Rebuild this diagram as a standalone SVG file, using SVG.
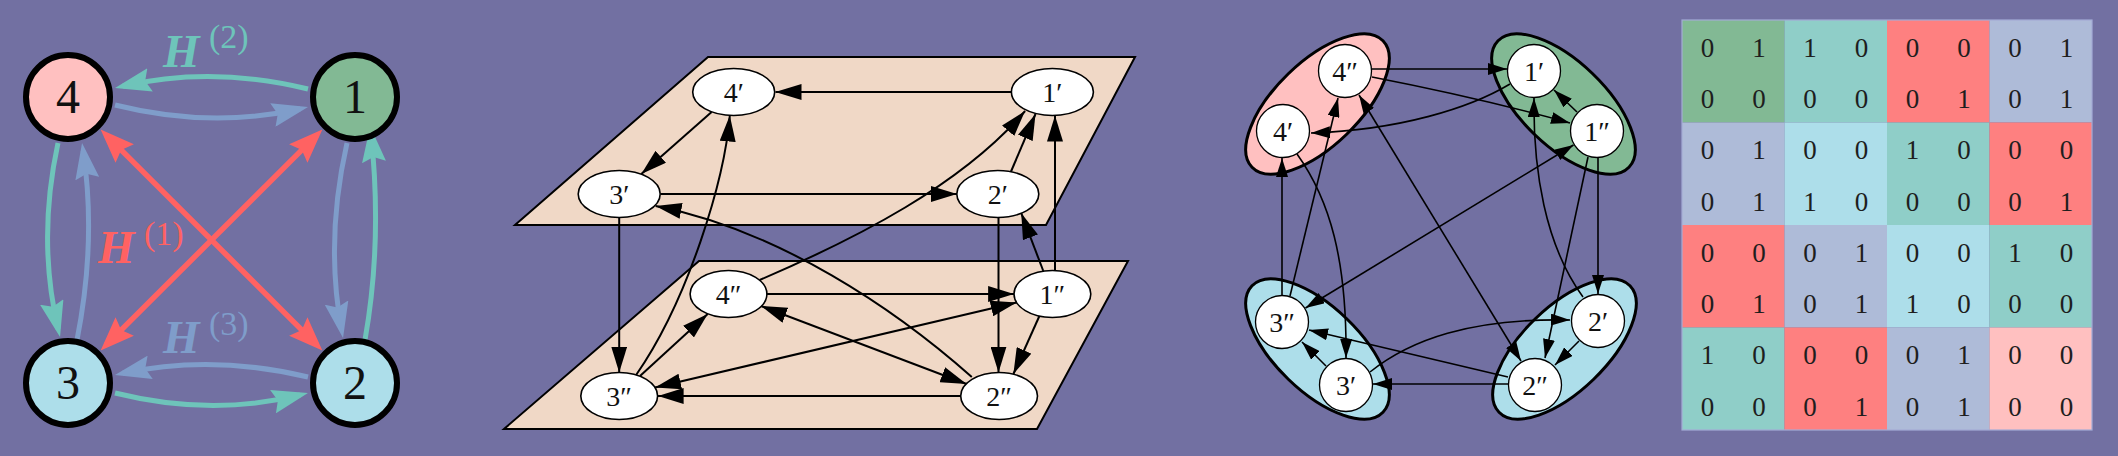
<svg xmlns="http://www.w3.org/2000/svg" width="2118" height="456" viewBox="0 0 2118 456">
<defs>
<style>
.lbl{font-family:"Liberation Serif","DejaVu Serif",serif;fill:#111;text-anchor:middle}
.big{font-size:48px}
.mid{font-size:28px}
.p3{font-size:28px}
.mat{font-family:"Liberation Serif","DejaVu Serif",serif;font-size:27px;fill:#1e1e1e;text-anchor:middle}
.H{font-family:"Liberation Serif","DejaVu Serif",serif;font-size:47px;font-weight:bold;font-style:italic}
.sup{font-size:34px;font-weight:normal;font-style:normal}
.n1{stroke:#000;stroke-width:6}
.e1{fill:none;stroke-width:5}
.t{stroke:#6EC4BA}
.b{stroke:#7F9DCA}
.r{stroke:#FF6262;stroke-width:5.5}
.plane{fill:#F0D8C6;stroke:#000;stroke-width:2}
.n2{fill:#fff;stroke:#000;stroke-width:1.6}
.e2{fill:none;stroke:#000;stroke-width:2}
.cl{stroke:#000;stroke-width:3}
.n3{fill:#fff;stroke:#000;stroke-width:1.3}
.e3{fill:none;stroke:#000;stroke-width:1.6}
</style>
<marker id="aT" viewBox="0 0 36 24" markerWidth="36" markerHeight="24" refX="28" refY="12" orient="auto" markerUnits="userSpaceOnUse"><path d="M0,0 L36,12 L0,24 L5,12 Z" fill="#6EC4BA"/></marker>
<marker id="aB" viewBox="0 0 36 24" markerWidth="36" markerHeight="24" refX="28" refY="12" orient="auto" markerUnits="userSpaceOnUse"><path d="M0,0 L36,12 L0,24 L5,12 Z" fill="#7F9DCA"/></marker>
<marker id="aR" viewBox="0 0 34 26" markerWidth="34" markerHeight="26" refX="26" refY="13" orient="auto-start-reverse" markerUnits="userSpaceOnUse"><path d="M0,0 L34,13 L0,26 L5,13 Z" fill="#FF6262"/></marker>
<marker id="a2" viewBox="0 0 26 16" markerWidth="26" markerHeight="16" refX="26" refY="8" orient="auto-start-reverse" markerUnits="userSpaceOnUse"><path d="M0,0 L26,8 L0,16 Z" fill="#000"/></marker>
<marker id="a3" viewBox="0 0 19 12" markerWidth="19" markerHeight="12" refX="19" refY="6" orient="auto-start-reverse" markerUnits="userSpaceOnUse"><path d="M0,0 L19,6 L0,12 Z" fill="#000"/></marker>
</defs>
<rect x="0" y="0" width="2118" height="456" fill="#7270A2"/>

<!-- Panel 1 -->
<g id="p1-connectors">
<path class="e1 t" d="M308,89 Q211.5,65.5 122.8,86.2" marker-end="url(#aT)"/>
<path class="e1 b" d="M115,105 Q211,129 300.2,108.8" marker-end="url(#aB)"/>
<path class="e1 t" d="M58,143 Q37,240 58.2,329.2" marker-end="url(#aT)"/>
<path class="e1 b" d="M77,340 Q96.5,241.5 83.2,150.9" marker-end="url(#aB)"/>
<path class="e1 b" d="M347,143 Q325,240 341.6,330.1" marker-end="url(#aB)"/>
<path class="e1 t" d="M365,340 Q382.5,241 371,134.1" marker-end="url(#aT)"/>
<path class="e1 b" d="M308,377 Q211.5,354 122.8,373.3" marker-end="url(#aB)"/>
<path class="e1 t" d="M115,393 Q211.5,417 300.2,394.9" marker-end="url(#aT)"/>
<path class="e1 r" d="M106.3,135.1 L316.7,344.9" marker-start="url(#aR)" marker-end="url(#aR)"/>
<path class="e1 r" d="M106.3,344.9 L316.7,135.1" marker-start="url(#aR)" marker-end="url(#aR)"/>
</g>
<g id="p1-labels">
<text class="H" x="163" y="67" fill="#6EC4BA">H<tspan class="sup" x="209" y="48">(2)</tspan></text>
<text class="H" x="98" y="263" fill="#FF6262">H<tspan class="sup" x="144" y="245">(1)</tspan></text>
<text class="H" x="163" y="353" fill="#7F9DCA">H<tspan class="sup" x="209" y="335">(3)</tspan></text>
</g>
<g id="p1-node4"><circle class="n1" cx="68" cy="97" r="42" fill="#FFC0C0"/><text class="lbl big" x="68" y="113">4</text></g>
<g id="p1-node1"><circle class="n1" cx="355" cy="97" r="42" fill="#82B994"/><text class="lbl big" x="355" y="113">1</text></g>
<g id="p1-node3"><circle class="n1" cx="68" cy="383" r="42" fill="#ADDEEA"/><text class="lbl big" x="68" y="399">3</text></g>
<g id="p1-node2"><circle class="n1" cx="355" cy="383" r="42" fill="#ADDEEA"/><text class="lbl big" x="355" y="399">2</text></g>

<!-- Panel 2 -->
<g id="p2-planes">
<polygon class="plane" points="699,261 1128,261 1037,429 504,429"/>
<polygon class="plane" points="708,57 1135,57 1046,225 515,225"/>
</g>
<g id="p2-connectors">
<path class="e2" d="M1012,92 L775.5,92" marker-end="url(#a2)"/>
<path class="e2" d="M711.6,112 L641.3,174" marker-end="url(#a2)"/>
<path class="e2" d="M660.8,194 L957,194" marker-end="url(#a2)"/>
<path class="e2" d="M1010.8,172 L1035.5,114" marker-end="url(#a2)"/>
<path class="e2" d="M1055,271 L1055,115.5" marker-end="url(#a2)"/>
<path class="e2" d="M759.7,280 C857.3,238 961.4,185 1025.1,111" marker-end="url(#a2)"/>
<path class="e2" d="M636.1,375 C688.2,300 724.6,180 729.8,115.5" marker-end="url(#a2)"/>
<path class="e2" d="M971.8,377 C896.3,310 779.2,230 655.6,206" marker-end="url(#a2)"/>
<path class="e2" d="M619.2,217.5 L619.2,372.5" marker-end="url(#a2)"/>
<path class="e2" d="M998.5,217.5 L998.5,372.5" marker-end="url(#a2)"/>
<path class="e2" d="M1043.3,271 L1021.2,213" marker-end="url(#a2)"/>
<path class="e2" d="M766.9,294 L1014.1,294" marker-end="url(#a2)"/>
<path class="e2" d="M761,306 L966.6,384" marker-start="url(#a2)" marker-end="url(#a2)"/>
<path class="e2" d="M1016.7,302.5 L655,387.5" marker-start="url(#a2)" marker-end="url(#a2)"/>
<path class="e2" d="M640,376 L707.7,314" marker-end="url(#a2)"/>
<path class="e2" d="M1039.4,316 L1013.4,374" marker-end="url(#a2)"/>
<path class="e2" d="M960.7,396 L657.6,396" marker-end="url(#a2)"/>
</g>
<g id="p2-n4p"><ellipse class="n2" cx="733.7" cy="92" rx="41" ry="23.5"/><text class="lbl mid" x="733.7" y="101.5">4′</text></g>
<g id="p2-n1p"><ellipse class="n2" cx="1052.4" cy="92" rx="41" ry="23.5"/><text class="lbl mid" x="1052.4" y="101.5">1′</text></g>
<g id="p2-n3p"><ellipse class="n2" cx="619.2" cy="194" rx="41" ry="23.5"/><text class="lbl mid" x="619.2" y="203.5">3′</text></g>
<g id="p2-n2p"><ellipse class="n2" cx="997.8" cy="194" rx="41" ry="23.5"/><text class="lbl mid" x="997.8" y="203.5">2′</text></g>
<g id="p2-n4pp"><ellipse class="n2" cx="728.5" cy="294" rx="38.4" ry="23.5"/><text class="lbl mid" x="728.5" y="303.5">4″</text></g>
<g id="p2-n1pp"><ellipse class="n2" cx="1052.4" cy="294" rx="38.4" ry="23.5"/><text class="lbl mid" x="1052.4" y="303.5">1″</text></g>
<g id="p2-n3pp"><ellipse class="n2" cx="619.2" cy="396" rx="38.4" ry="23.5"/><text class="lbl mid" x="619.2" y="405.5">3″</text></g>
<g id="p2-n2pp"><ellipse class="n2" cx="999.1" cy="396" rx="38.4" ry="23.5"/><text class="lbl mid" x="999.1" y="405.5">2″</text></g>

<!-- Panel 3 -->
<g id="p3-clusters">
<ellipse class="cl" cx="1317.5" cy="104" rx="91" ry="42" fill="#FFC0C0" transform="rotate(-44 1317.5 104)"/>
<ellipse class="cl" cx="1563.5" cy="104" rx="91" ry="42" fill="#82B994" transform="rotate(44 1563.5 104)"/>
<ellipse class="cl" cx="1317.5" cy="349" rx="91" ry="42" fill="#ADDEEA" transform="rotate(44 1317.5 349)"/>
<ellipse class="cl" cx="1564.5" cy="349" rx="91" ry="42" fill="#ADDEEA" transform="rotate(-44 1564.5 349)"/>
</g>
<g id="p3-connectors">
<path class="e3" d="M1372,69 L1507,69" marker-end="url(#a3)"/>
<path class="e3" d="M1372,77 Q1480,98 1570,123" marker-end="url(#a3)"/>
<path class="e3" d="M1510,84 C1470,108 1400,130 1311,133" marker-end="url(#a3)"/>
<path class="e3" d="M1577,112 L1554,90" marker-end="url(#a3)"/>
<path class="e3" d="M1583,297 C1545,245 1533,170 1534,98" marker-end="url(#a3)"/>
<path class="e3" d="M1588,157 L1545,358" marker-end="url(#a3)"/>
<path class="e3" d="M1598,158 L1598,294" marker-end="url(#a3)"/>
<path class="e3" d="M1573.5,145 L1305.5,308" marker-start="url(#a3)" marker-end="url(#a3)"/>
<path class="e3" d="M1359,95 L1521,361" marker-start="url(#a3)" marker-end="url(#a3)"/>
<path class="e3" d="M1282,295 L1282,158" marker-end="url(#a3)"/>
<path class="e3" d="M1290,296 L1338,98" marker-end="url(#a3)"/>
<path class="e3" d="M1297,154 C1330,200 1347,260 1346,358" marker-end="url(#a3)"/>
<path class="e3" d="M1579,341 L1555,365" marker-end="url(#a3)"/>
<path class="e3" d="M1370,372 C1410,340 1470,318 1570,320" marker-end="url(#a3)"/>
<path class="e3" d="M1508,377 L1309,330" marker-end="url(#a3)"/>
<path class="e3" d="M1326,366 L1302,342" marker-end="url(#a3)"/>
<path class="e3" d="M1508,384 L1373,384" marker-end="url(#a3)"/>
</g>
<g id="p3-n4pp"><circle class="n3" cx="1345" cy="71" r="26.5"/><text class="lbl p3" x="1345" y="81">4″</text></g>
<g id="p3-n4p"><circle class="n3" cx="1283" cy="131" r="26.5"/><text class="lbl p3" x="1283" y="141">4′</text></g>
<g id="p3-n1p"><circle class="n3" cx="1534" cy="71" r="26.5"/><text class="lbl p3" x="1534" y="81">1′</text></g>
<g id="p3-n1pp"><circle class="n3" cx="1597" cy="131" r="26.5"/><text class="lbl p3" x="1597" y="141">1″</text></g>
<g id="p3-n3pp"><circle class="n3" cx="1282" cy="322" r="26.5"/><text class="lbl p3" x="1282" y="332">3″</text></g>
<g id="p3-n3p"><circle class="n3" cx="1346" cy="385" r="26.5"/><text class="lbl p3" x="1346" y="395">3′</text></g>
<g id="p3-n2p"><circle class="n3" cx="1598" cy="321" r="26.5"/><text class="lbl p3" x="1598" y="331">2′</text></g>
<g id="p3-n2pp"><circle class="n3" cx="1535" cy="385" r="26.5"/><text class="lbl p3" x="1535" y="395">2″</text></g>

<!-- Panel 4: matrix -->
<g id="p4-matrix">
<rect x="1682" y="20" width="102.5" height="102.5" fill="#82B994"/>
<rect x="1784.5" y="20" width="102.5" height="102.5" fill="#8FCEC8"/>
<rect x="1887" y="20" width="102.5" height="102.5" fill="#FE8080"/>
<rect x="1989.5" y="20" width="102.5" height="102.5" fill="#AEBBD8"/>
<rect x="1682" y="122.5" width="102.5" height="102.5" fill="#AEBBD8"/>
<rect x="1784.5" y="122.5" width="102.5" height="102.5" fill="#ADDEEA"/>
<rect x="1887" y="122.5" width="102.5" height="102.5" fill="#8FCEC8"/>
<rect x="1989.5" y="122.5" width="102.5" height="102.5" fill="#FE8080"/>
<rect x="1682" y="225" width="102.5" height="102.5" fill="#FE8080"/>
<rect x="1784.5" y="225" width="102.5" height="102.5" fill="#AEBBD8"/>
<rect x="1887" y="225" width="102.5" height="102.5" fill="#ADDEEA"/>
<rect x="1989.5" y="225" width="102.5" height="102.5" fill="#8FCEC8"/>
<rect x="1682" y="327.5" width="102.5" height="102.5" fill="#8FCEC8"/>
<rect x="1784.5" y="327.5" width="102.5" height="102.5" fill="#FE8080"/>
<rect x="1887" y="327.5" width="102.5" height="102.5" fill="#AEBBD8"/>
<rect x="1989.5" y="327.5" width="102.5" height="102.5" fill="#FFC0C0"/>
<rect x="1682" y="20" width="410" height="410" fill="none" stroke="#A3ABD6" stroke-width="1.2"/>
<text class="mat" x="1707.6" y="57">0</text><text class="mat" x="1758.9" y="57">1</text><text class="mat" x="1810.1" y="57">1</text><text class="mat" x="1861.4" y="57">0</text><text class="mat" x="1912.6" y="57">0</text><text class="mat" x="1963.9" y="57">0</text><text class="mat" x="2015.1" y="57">0</text><text class="mat" x="2066.4" y="57">1</text>
<text class="mat" x="1707.6" y="108">0</text><text class="mat" x="1758.9" y="108">0</text><text class="mat" x="1810.1" y="108">0</text><text class="mat" x="1861.4" y="108">0</text><text class="mat" x="1912.6" y="108">0</text><text class="mat" x="1963.9" y="108">1</text><text class="mat" x="2015.1" y="108">0</text><text class="mat" x="2066.4" y="108">1</text>
<text class="mat" x="1707.6" y="159">0</text><text class="mat" x="1758.9" y="159">1</text><text class="mat" x="1810.1" y="159">0</text><text class="mat" x="1861.4" y="159">0</text><text class="mat" x="1912.6" y="159">1</text><text class="mat" x="1963.9" y="159">0</text><text class="mat" x="2015.1" y="159">0</text><text class="mat" x="2066.4" y="159">0</text>
<text class="mat" x="1707.6" y="210.5">0</text><text class="mat" x="1758.9" y="210.5">1</text><text class="mat" x="1810.1" y="210.5">1</text><text class="mat" x="1861.4" y="210.5">0</text><text class="mat" x="1912.6" y="210.5">0</text><text class="mat" x="1963.9" y="210.5">0</text><text class="mat" x="2015.1" y="210.5">0</text><text class="mat" x="2066.4" y="210.5">1</text>
<text class="mat" x="1707.6" y="261.5">0</text><text class="mat" x="1758.9" y="261.5">0</text><text class="mat" x="1810.1" y="261.5">0</text><text class="mat" x="1861.4" y="261.5">1</text><text class="mat" x="1912.6" y="261.5">0</text><text class="mat" x="1963.9" y="261.5">0</text><text class="mat" x="2015.1" y="261.5">1</text><text class="mat" x="2066.4" y="261.5">0</text>
<text class="mat" x="1707.6" y="313">0</text><text class="mat" x="1758.9" y="313">1</text><text class="mat" x="1810.1" y="313">0</text><text class="mat" x="1861.4" y="313">1</text><text class="mat" x="1912.6" y="313">1</text><text class="mat" x="1963.9" y="313">0</text><text class="mat" x="2015.1" y="313">0</text><text class="mat" x="2066.4" y="313">0</text>
<text class="mat" x="1707.6" y="364">1</text><text class="mat" x="1758.9" y="364">0</text><text class="mat" x="1810.1" y="364">0</text><text class="mat" x="1861.4" y="364">0</text><text class="mat" x="1912.6" y="364">0</text><text class="mat" x="1963.9" y="364">1</text><text class="mat" x="2015.1" y="364">0</text><text class="mat" x="2066.4" y="364">0</text>
<text class="mat" x="1707.6" y="415.5">0</text><text class="mat" x="1758.9" y="415.5">0</text><text class="mat" x="1810.1" y="415.5">0</text><text class="mat" x="1861.4" y="415.5">1</text><text class="mat" x="1912.6" y="415.5">0</text><text class="mat" x="1963.9" y="415.5">1</text><text class="mat" x="2015.1" y="415.5">0</text><text class="mat" x="2066.4" y="415.5">0</text>
</g>
</svg>
